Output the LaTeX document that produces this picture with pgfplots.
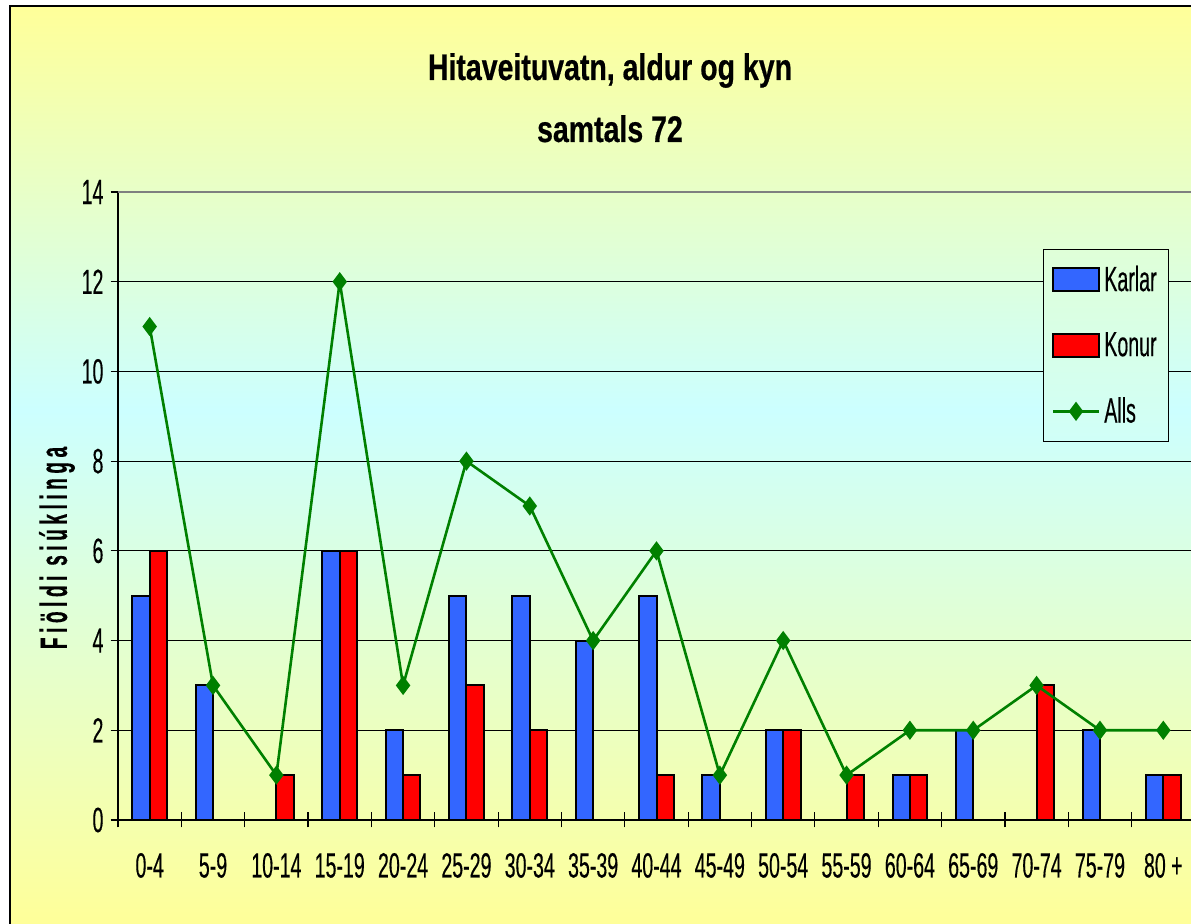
\documentclass[border=0pt]{standalone}
\usepackage{fontspec}
\setmainfont{Liberation Sans}[FakeStretch=0.56, FakeBold=0.3]
\newfontfamily\titlefont{Liberation Sans}[FakeStretch=0.77, FakeBold=0.5]
\newfontfamily\ylabfont{Liberation Sans}[FakeStretch=0.5, LetterSpace=12, FakeBold=0.3]
\usepackage{pgfplots}
\pgfplotsset{compat=1.18}
\definecolor{bgyel}{RGB}{255,255,153}
\definecolor{bgcyn}{RGB}{204,255,255}
\definecolor{karl}{RGB}{51,102,255}
\definecolor{kon}{RGB}{255,0,0}
\definecolor{alls}{RGB}{0,128,0}
\definecolor{legtop}{RGB}{223,255,216}
\definecolor{legbot}{RGB}{208,255,248}
\pgfdeclareverticalshading{bgshade}{100bp}{color(0bp)=(bgyel); color(25bp)=(bgyel); color(53bp)=(bgcyn); color(75bp)=(bgyel); color(100bp)=(bgyel)}
\pgfplotsset{
  barleg/.style={legend image code/.code={\draw[##1, line width=1pt] (0pt,-5.75pt) rectangle (23pt,5.75pt);}},
  lineleg/.style={legend image code/.code={\draw[##1, mark repeat=2, mark phase=2] plot coordinates {(0pt,0pt) (11.5pt,0pt) (23pt,0pt)};}},
}
\begin{document}
\begin{tikzpicture}
\shade[shading=bgshade] (5pt,0pt) rectangle (600pt,459pt);
\draw[black, line width=1pt] (5pt,-2pt) -- (5pt,459pt) -- (600pt,459pt);
\begin{axis}[
  at={(59pt,52pt)}, anchor=south west, scale only axis,
  width=538.5pt, height=314pt,
  xmin=-0.5, xmax=16.5, ymin=0, ymax=14,
  axis x line*=bottom, axis y line*=left,
  axis line style={black, line width=0.8pt},
  xtick={-0.5,0.5,...,16.5}, xticklabels={},
  extra x ticks={0,1,...,16},
  extra x tick labels={0-4,5-9,10-14,15-19,20-24,25-29,30-34,35-39,40-44,45-49,50-54,55-59,60-64,65-69,70-74,75-79,80 +},
  extra x tick style={major tick length=0pt, xticklabel style={yshift=-13pt}},
  ytick={0,2,...,14},
  tick align=center, major tick length=7.5pt,
  tick style={black, line width=0.6pt},
  ymajorgrids, grid style={black, line width=0.5pt},
  ticklabel style={font=\fontsize{17.5}{19}\selectfont},
  /pgf/number format/assume math mode=true,
  legend style={at={(0.859,0.909)}, anchor=north west, draw=black, line width=0.6pt,
    top color=legtop, bottom color=legbot,
    font=\fontsize{17.5}{19}\selectfont, row sep=15pt, inner xsep=4pt, inner ysep=6pt},
  legend cell align=left,
]
\addplot[ybar, bar width=8.7pt, bar shift=-4.35pt, fill=karl, draw=black, line width=1pt, barleg]
  coordinates {(0,5) (1,3) (2,0) (3,6) (4,2) (5,5) (6,5) (7,4) (8,5) (9,1) (10,2) (11,0) (12,1) (13,2) (14,0) (15,2) (16,1)};
\addlegendentry{Karlar}
\addplot[ybar, bar width=8.7pt, bar shift=4.35pt, fill=kon, draw=black, line width=1pt, barleg]
  coordinates {(0,6) (1,0) (2,1) (3,6) (4,1) (5,3) (6,2) (7,0) (8,1) (9,0) (10,2) (11,1) (12,1) (13,0) (14,3) (15,0) (16,1)};
\addlegendentry{Konur}
\addplot[sharp plot, color=alls, line width=1.3pt, mark=diamond*, mark size=3.75pt,
  mark options={solid, fill=alls, draw=alls}, lineleg]
  coordinates {(0,11) (1,3) (2,1) (3,12) (4,3) (5,8) (6,7) (7,4) (8,6) (9,1) (10,4) (11,1) (12,2) (13,2) (14,3) (15,2) (16,2)};
\addlegendentry{Alls}
\draw[black!50, line width=1pt] (rel axis cs:0,1) -- (rel axis cs:1,1);
\end{axis}
\node[anchor=base, font=\titlefont\bfseries\fontsize{18.5}{20}\selectfont] at (305pt,422pt) {Hitaveituvatn, aldur og kyn};
\node[anchor=base, font=\titlefont\bfseries\fontsize{18.5}{20}\selectfont] at (305pt,391pt) {samtals 72};
\node[rotate=90, font=\ylabfont\bfseries\fontsize{19}{20}\selectfont] at (28.5pt,188pt) {Fiöldi siúklinga};
\pgfresetboundingbox
\path[use as bounding box] (0pt,0pt) rectangle (595.5pt,462pt);
\end{tikzpicture}
\end{document}
